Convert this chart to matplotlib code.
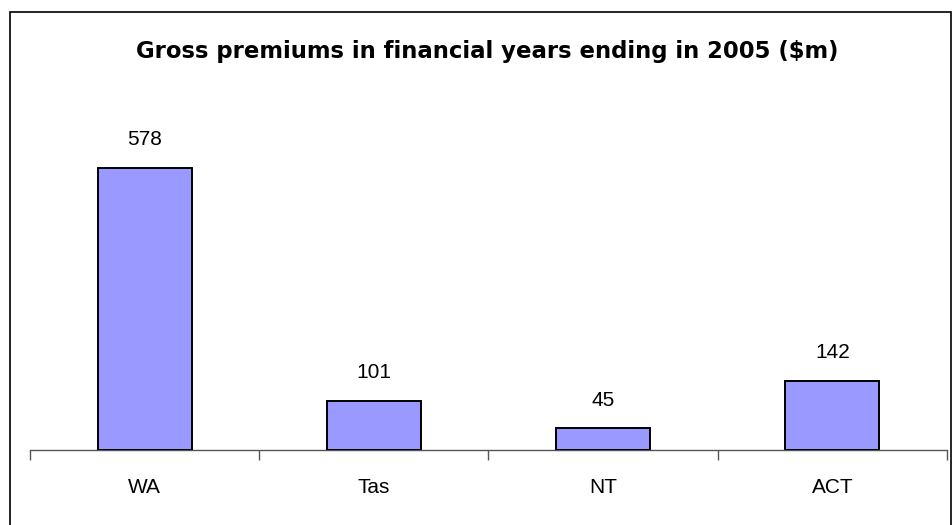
import numpy as np
import matplotlib.pyplot as plt
from matplotlib.patches import Rectangle

# data
states = ['WA', 'Tas', 'NT', 'ACT']
premiums = [578, 101, 45, 142]

plt.rcParams['font.family'] = ['Liberation Sans', 'DejaVu Sans']

W, H = 953, 525
fig = plt.figure(figsize=(W / 100, H / 100), dpi=100)

# outer chart border (Excel-style chart area)
fig.patches.append(Rectangle((10 / W, -0.01), 941 / W, 1 - 12 / H + 0.01,
                             transform=fig.transFigure, fill=False,
                             edgecolor='black', linewidth=1.2))

ax = fig.add_axes([30 / W, 1 - 450 / H, 917 / W, (450 - 108) / H])
x = np.arange(len(states))
ax.bar(x, premiums, width=0.41, color='#9999FF', edgecolor='black', linewidth=1.4, zorder=3)

for xi, v in zip(x, premiums):
    ax.annotate(str(v), (xi, v), xytext=(0, 20), textcoords='offset points',
                ha='center', va='center', fontsize=15)

ax.set_xlim(-0.5, len(states) - 0.5)
ax.set_ylim(0, 700)

for s in ['top', 'right', 'left']:
    ax.spines[s].set_visible(False)
ax.spines['bottom'].set_color('#555555')
ax.spines['bottom'].set_linewidth(1.0)

ax.set_yticks([])
ax.set_xticks(np.arange(len(states) + 1) - 0.5)
ax.set_xticklabels([])
ax.set_xticks(x, minor=True)
ax.set_xticklabels(states, minor=True, fontsize=15)
ax.tick_params(axis='x', which='major', length=7, color='#555555', width=1.0)
ax.tick_params(axis='x', which='minor', length=0, pad=20)

fig.text(487 / W, 1 - 51 / H, 'Gross premiums in financial years ending in 2005 ($m)',
         ha='center', va='center', fontsize=16.4, fontweight='bold', family='DejaVu Sans')

fig.savefig('out.png', dpi=100)
